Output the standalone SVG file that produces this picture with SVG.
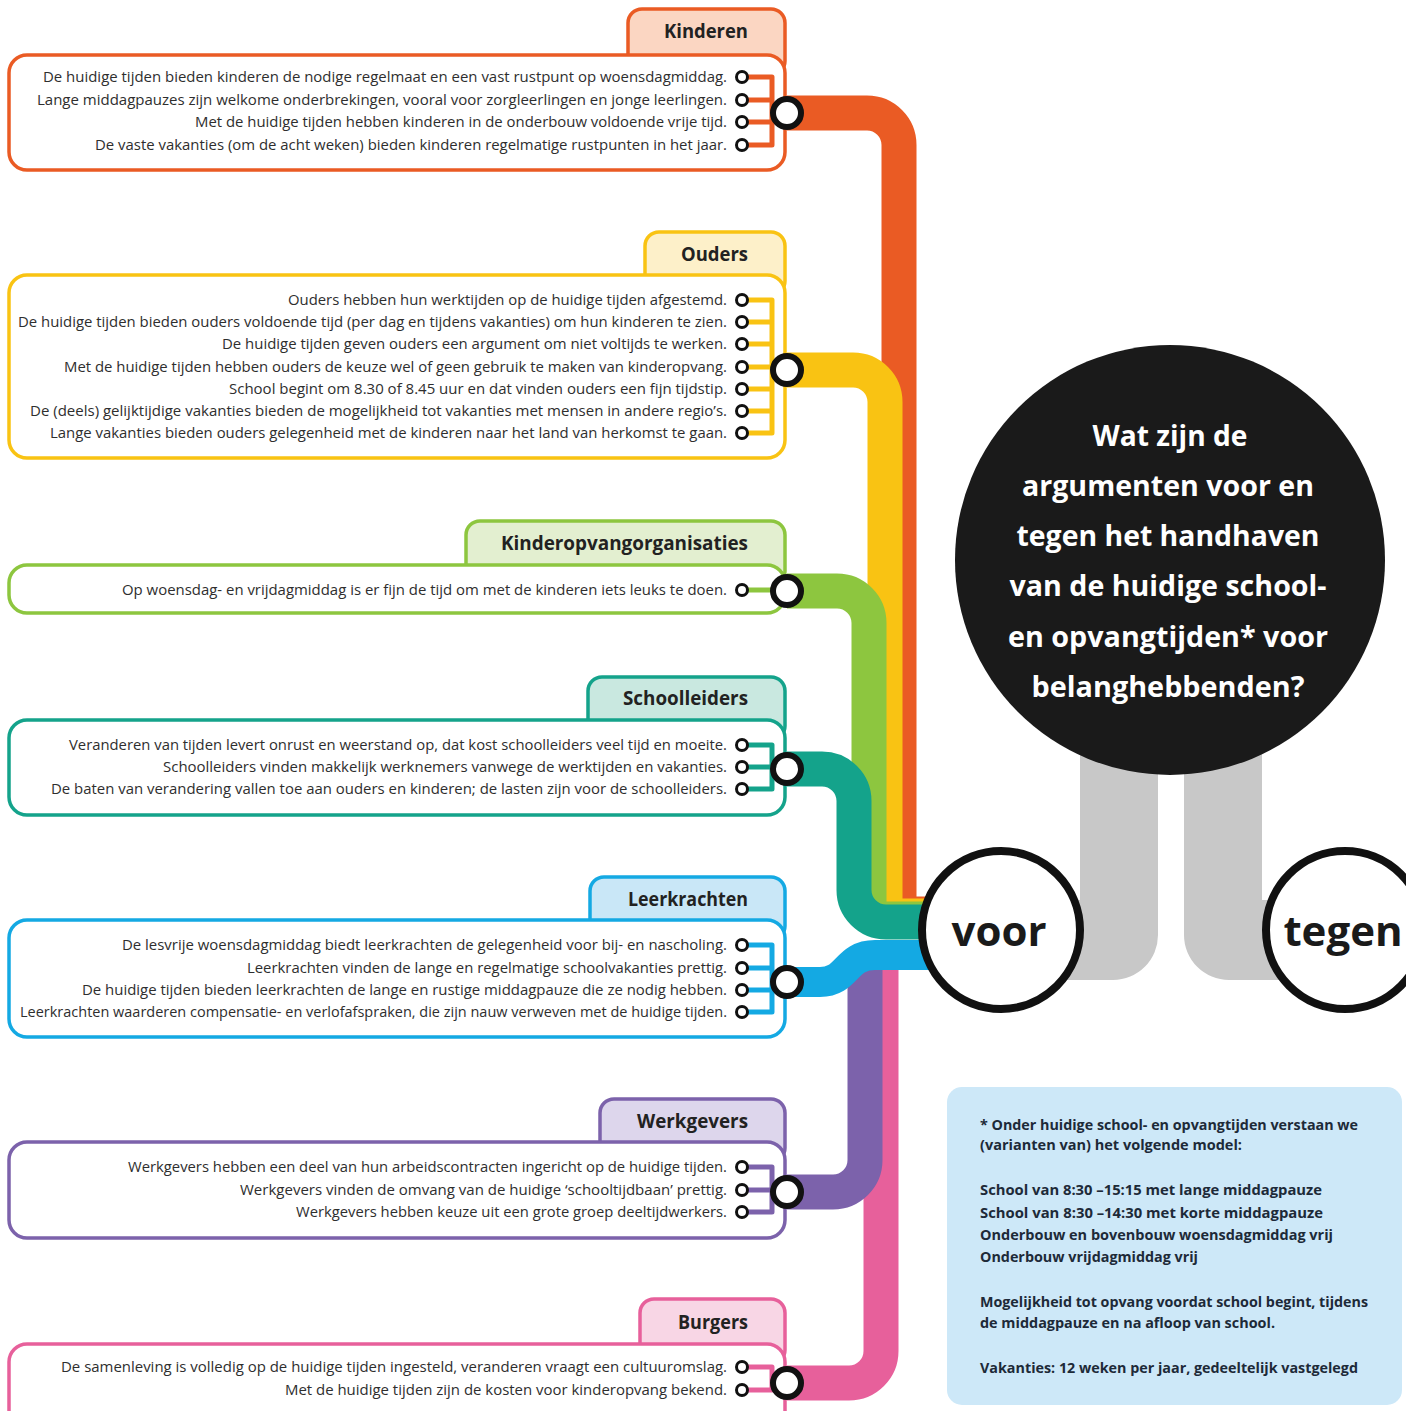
<svg xmlns="http://www.w3.org/2000/svg" width="1406" height="1411" viewBox="0 0 1406 1411">
<style>
.box{fill:#fff;stroke-width:3.5}
.tab{stroke-width:3.5}
.t{font-family:"Open Sans","Liberation Sans",sans-serif;font-size:14px;fill:#2e2e2e;text-anchor:end}
.lbl{font-family:"Open Sans","Liberation Sans",sans-serif;font-size:20px;font-weight:bold;fill:#222;text-anchor:end}
.dot{fill:#fff;stroke:#111;stroke-width:3}
.hub{fill:#fff;stroke:#111;stroke-width:6}
.br{fill:none;stroke-width:5;stroke-linejoin:round;stroke-linecap:round}
.band{fill:none;stroke-width:35}
.gray{fill:#c8c8c8}
.q{font-family:"Open Sans","Liberation Sans",sans-serif;font-size:29px;font-weight:bold;fill:#fff;text-anchor:middle}
.big{font-family:"Open Sans","Liberation Sans",sans-serif;font-size:42px;font-weight:bold;fill:#1a1a1a;text-anchor:middle}
.n{font-family:"Open Sans","Liberation Sans",sans-serif;font-size:14px;font-weight:bold;fill:#1d2a38}
.or{stroke:#ea5b24}.ye{stroke:#f9c313}.gr{stroke:#8dc63f}.te{stroke:#14a38b}.bl{stroke:#14a9e3}.pu{stroke:#7c62ab}.pi{stroke:#e7609b}
</style>

<g id="connectors">
  <path class="gray" d="M1080,700 H1158 V935 A45,45 0 0 1 1113,980 H1000 V900 H1080 Z"/>
  <path class="gray" d="M1184,700 H1262 V900 H1345 V980 H1229 A45,45 0 0 1 1184,935 Z"/>
  <path class="band pi" d="M787,1383 H849 A32,32 0 0 0 881,1351 V955"/>
  <path class="band pu" d="M787,1192 H833 A32,32 0 0 0 865,1160 V955"/>
  <path class="band or" d="M787,113 H867 A32,32 0 0 1 899,145 V900 A14,14 0 0 0 913,914 H935"/>
  <path class="band ye" d="M787,370 H853 A32,32 0 0 1 885,402 V902 A14,14 0 0 0 899,916 H935"/>
  <path class="band gr" d="M787,591 H837 A32,32 0 0 1 869,623 V905 A14,14 0 0 0 883,919 H935"/>
  <path class="band te" d="M787,769 H822 A32,32 0 0 1 854,801 V890 A32,32 0 0 0 886,922 H935"/>
  <path class="band bl" style="stroke-width:30" d="M787,982 H820 C848,982 845,955 875,955 H935"/>
</g>

<g id="vraag">
  <circle cx="1170" cy="560" r="215" fill="#1a1a1a"/>
  <text class="q" x="1170" y="446" textLength="155" lengthAdjust="spacingAndGlyphs">Wat zijn de</text>
  <text class="q" x="1168" y="496" textLength="292" lengthAdjust="spacingAndGlyphs">argumenten voor en</text>
  <text class="q" x="1168" y="546" textLength="303" lengthAdjust="spacingAndGlyphs">tegen het handhaven</text>
  <text class="q" x="1168" y="596" textLength="317" lengthAdjust="spacingAndGlyphs">van de huidige school-</text>
  <text class="q" x="1168" y="647" textLength="320" lengthAdjust="spacingAndGlyphs">en opvangtijden* voor</text>
  <text class="q" x="1168" y="697" textLength="273" lengthAdjust="spacingAndGlyphs">belanghebbenden?</text>
</g>

<g id="voor">
  <circle cx="1001" cy="930" r="79" fill="#fff" stroke="#111" stroke-width="8"/>
  <text class="big" x="999" y="946">voor</text>
</g>
<g id="tegen">
  <circle cx="1345" cy="930" r="79" fill="#fff" stroke="#111" stroke-width="8"/>
  <text class="big" x="1343" y="946">tegen</text>
</g>

<g id="kinderen">
  <rect class="tab or" x="628" y="9" width="157" height="66" rx="14" fill="#fbd6c2"/>
  <rect class="box or" x="9" y="55" width="776" height="115" rx="18"/>
  <text class="lbl" x="748" y="38" textLength="84" lengthAdjust="spacingAndGlyphs">Kinderen</text>
  <text class="t" x="727" y="82" textLength="684" lengthAdjust="spacingAndGlyphs">De huidige tijden bieden kinderen de nodige regelmaat en een vast rustpunt op woensdagmiddag.</text>
  <text class="t" x="727" y="105" textLength="690" lengthAdjust="spacingAndGlyphs">Lange middagpauzes zijn welkome onderbrekingen, vooral voor zorgleerlingen en jonge leerlingen.</text>
  <text class="t" x="727" y="127" textLength="532" lengthAdjust="spacingAndGlyphs">Met de huidige tijden hebben kinderen in de onderbouw voldoende vrije tijd.</text>
  <text class="t" x="727" y="150" textLength="632" lengthAdjust="spacingAndGlyphs">De vaste vakanties (om de acht weken) bieden kinderen regelmatige rustpunten in het jaar.</text>
  <path class="br or" d="M748,77 H772 V145 H748 M748,100 H772 M748,122 H772"/>
  <circle class="dot" cx="742" cy="77" r="5.5"/>
  <circle class="dot" cx="742" cy="100" r="5.5"/>
  <circle class="dot" cx="742" cy="122" r="5.5"/>
  <circle class="dot" cx="742" cy="145" r="5.5"/>
  <circle class="hub" cx="787" cy="113" r="14"/>
</g>

<g id="ouders">
  <rect class="tab ye" x="645" y="232" width="140" height="63" rx="14" fill="#fdf0c9"/>
  <rect class="box ye" x="9" y="275" width="776" height="183" rx="18"/>
  <text class="lbl" x="748" y="261" textLength="67" lengthAdjust="spacingAndGlyphs">Ouders</text>
  <text class="t" x="727" y="305" textLength="439" lengthAdjust="spacingAndGlyphs">Ouders hebben hun werktijden op de huidige tijden afgestemd.</text>
  <text class="t" x="727" y="327" textLength="709" lengthAdjust="spacingAndGlyphs">De huidige tijden bieden ouders voldoende tijd (per dag en tijdens vakanties) om hun kinderen te zien.</text>
  <text class="t" x="727" y="349" textLength="505" lengthAdjust="spacingAndGlyphs">De huidige tijden geven ouders een argument om niet voltijds te werken.</text>
  <text class="t" x="727" y="372" textLength="663" lengthAdjust="spacingAndGlyphs">Met de huidige tijden hebben ouders de keuze wel of geen gebruik te maken van kinderopvang.</text>
  <text class="t" x="727" y="394" textLength="498" lengthAdjust="spacingAndGlyphs">School begint om 8.30 of 8.45 uur en dat vinden ouders een fijn tijdstip.</text>
  <text class="t" x="727" y="416" textLength="697" lengthAdjust="spacingAndGlyphs">De (deels) gelijktijdige vakanties bieden de mogelijkheid tot vakanties met mensen in andere regio’s.</text>
  <text class="t" x="727" y="438" textLength="677" lengthAdjust="spacingAndGlyphs">Lange vakanties bieden ouders gelegenheid met de kinderen naar het land van herkomst te gaan.</text>
  <path class="br ye" d="M748,300 H772 V433 H748 M748,322 H772 M748,344 H772 M748,367 H772 M748,389 H772 M748,411 H772"/>
  <circle class="dot" cx="742" cy="300" r="5.5"/>
  <circle class="dot" cx="742" cy="322" r="5.5"/>
  <circle class="dot" cx="742" cy="344" r="5.5"/>
  <circle class="dot" cx="742" cy="367" r="5.5"/>
  <circle class="dot" cx="742" cy="389" r="5.5"/>
  <circle class="dot" cx="742" cy="411" r="5.5"/>
  <circle class="dot" cx="742" cy="433" r="5.5"/>
  <circle class="hub" cx="787" cy="370" r="14"/>
</g>

<g id="kinderopvangorganisaties">
  <rect class="tab gr" x="466" y="521" width="319" height="64" rx="14" fill="#e3efd0"/>
  <rect class="box gr" x="9" y="565" width="776" height="48" rx="18"/>
  <text class="lbl" x="748" y="550" textLength="247" lengthAdjust="spacingAndGlyphs">Kinderopvangorganisaties</text>
  <text class="t" x="727" y="595" textLength="605" lengthAdjust="spacingAndGlyphs">Op woensdag- en vrijdagmiddag is er fijn de tijd om met de kinderen iets leuks te doen.</text>
  <path class="br gr" d="M748,590 H772"/>
  <circle class="dot" cx="742" cy="590" r="5.5"/>
  <circle class="hub" cx="787" cy="591" r="14"/>
</g>

<g id="schoolleiders">
  <rect class="tab te" x="588" y="677" width="197" height="63" rx="14" fill="#c9e8e0"/>
  <rect class="box te" x="9" y="720" width="776" height="95" rx="18"/>
  <text class="lbl" x="748" y="705" textLength="125" lengthAdjust="spacingAndGlyphs">Schoolleiders</text>
  <text class="t" x="727" y="750" textLength="658" lengthAdjust="spacingAndGlyphs">Veranderen van tijden levert onrust en weerstand op, dat kost schoolleiders veel tijd en moeite.</text>
  <text class="t" x="727" y="772" textLength="564" lengthAdjust="spacingAndGlyphs">Schoolleiders vinden makkelijk werknemers vanwege de werktijden en vakanties.</text>
  <text class="t" x="727" y="794" textLength="676" lengthAdjust="spacingAndGlyphs">De baten van verandering vallen toe aan ouders en kinderen; de lasten zijn voor de schoolleiders.</text>
  <path class="br te" d="M748,745 H772 V789 H748 M748,767 H772"/>
  <circle class="dot" cx="742" cy="745" r="5.5"/>
  <circle class="dot" cx="742" cy="767" r="5.5"/>
  <circle class="dot" cx="742" cy="789" r="5.5"/>
  <circle class="hub" cx="787" cy="769" r="14"/>
</g>

<g id="leerkrachten">
  <rect class="tab bl" x="590" y="877" width="195" height="63" rx="14" fill="#c9e7f7"/>
  <rect class="box bl" x="9" y="920" width="776" height="117" rx="18"/>
  <text class="lbl" x="748" y="906" textLength="120" lengthAdjust="spacingAndGlyphs">Leerkrachten</text>
  <text class="t" x="727" y="950" textLength="605" lengthAdjust="spacingAndGlyphs">De lesvrije woensdagmiddag biedt leerkrachten de gelegenheid voor bij- en nascholing.</text>
  <text class="t" x="727" y="973" textLength="480" lengthAdjust="spacingAndGlyphs">Leerkrachten vinden de lange en regelmatige schoolvakanties prettig.</text>
  <text class="t" x="727" y="995" textLength="645" lengthAdjust="spacingAndGlyphs">De huidige tijden bieden leerkrachten de lange en rustige middagpauze die ze nodig hebben.</text>
  <text class="t" x="727" y="1017" textLength="707" lengthAdjust="spacingAndGlyphs">Leerkrachten waarderen compensatie- en verlofafspraken, die zijn nauw verweven met de huidige tijden.</text>
  <path class="br bl" d="M748,945 H772 V1012 H748 M748,968 H772 M748,990 H772"/>
  <circle class="dot" cx="742" cy="945" r="5.5"/>
  <circle class="dot" cx="742" cy="968" r="5.5"/>
  <circle class="dot" cx="742" cy="990" r="5.5"/>
  <circle class="dot" cx="742" cy="1012" r="5.5"/>
  <circle class="hub" cx="787" cy="982" r="14"/>
</g>

<g id="werkgevers">
  <rect class="tab pu" x="600" y="1099" width="185" height="63" rx="14" fill="#ddd6ec"/>
  <rect class="box pu" x="9" y="1142" width="776" height="96" rx="18"/>
  <text class="lbl" x="748" y="1128" textLength="111" lengthAdjust="spacingAndGlyphs">Werkgevers</text>
  <text class="t" x="727" y="1172" textLength="599" lengthAdjust="spacingAndGlyphs">Werkgevers hebben een deel van hun arbeidscontracten ingericht op de huidige tijden.</text>
  <text class="t" x="727" y="1195" textLength="487" lengthAdjust="spacingAndGlyphs">Werkgevers vinden de omvang van de huidige ‘schooltijdbaan’ prettig.</text>
  <text class="t" x="727" y="1217" textLength="431" lengthAdjust="spacingAndGlyphs">Werkgevers hebben keuze uit een grote groep deeltijdwerkers.</text>
  <path class="br pu" d="M748,1167 H772 V1212 H748 M748,1190 H772"/>
  <circle class="dot" cx="742" cy="1167" r="5.5"/>
  <circle class="dot" cx="742" cy="1190" r="5.5"/>
  <circle class="dot" cx="742" cy="1212" r="5.5"/>
  <circle class="hub" cx="787" cy="1192" r="14"/>
</g>

<g id="burgers">
  <rect class="tab pi" x="640" y="1299" width="145" height="65" rx="14" fill="#f8d6e5"/>
  <rect class="box pi" x="9" y="1344" width="776" height="90" rx="18"/>
  <text class="lbl" x="748" y="1329" textLength="70" lengthAdjust="spacingAndGlyphs">Burgers</text>
  <text class="t" x="727" y="1372" textLength="666" lengthAdjust="spacingAndGlyphs">De samenleving is volledig op de huidige tijden ingesteld, veranderen vraagt een cultuuromslag.</text>
  <text class="t" x="727" y="1395" textLength="442" lengthAdjust="spacingAndGlyphs">Met de huidige tijden zijn de kosten voor kinderopvang bekend.</text>
  <path class="br pi" d="M748,1367 H772 V1390 H748"/>
  <circle class="dot" cx="742" cy="1367" r="5.5"/>
  <circle class="dot" cx="742" cy="1390" r="5.5"/>
  <circle class="hub" cx="787" cy="1383" r="14"/>
</g>

<g id="toelichting">
  <rect x="947" y="1087" width="455" height="318" rx="15" fill="#cde8f8"/>
  <text class="n" x="980" y="1130" textLength="378" lengthAdjust="spacingAndGlyphs">* Onder huidige school- en opvangtijden verstaan we</text>
  <text class="n" x="980" y="1150" textLength="262" lengthAdjust="spacingAndGlyphs">(varianten van) het volgende model:</text>
  <text class="n" x="980" y="1195" textLength="342" lengthAdjust="spacingAndGlyphs">School van 8:30 –15:15 met lange middagpauze</text>
  <text class="n" x="980" y="1218" textLength="343" lengthAdjust="spacingAndGlyphs">School van 8:30 –14:30 met korte middagpauze</text>
  <text class="n" x="980" y="1240" textLength="353" lengthAdjust="spacingAndGlyphs">Onderbouw en bovenbouw woensdagmiddag vrij</text>
  <text class="n" x="980" y="1262" textLength="218" lengthAdjust="spacingAndGlyphs">Onderbouw vrijdagmiddag vrij</text>
  <text class="n" x="980" y="1307" textLength="388" lengthAdjust="spacingAndGlyphs">Mogelijkheid tot opvang voordat school begint, tijdens</text>
  <text class="n" x="980" y="1328" textLength="295" lengthAdjust="spacingAndGlyphs">de middagpauze en na afloop van school.</text>
  <text class="n" x="980" y="1373" textLength="378" lengthAdjust="spacingAndGlyphs">Vakanties: 12 weken per jaar, gedeeltelijk vastgelegd</text>
</g>
</svg>
